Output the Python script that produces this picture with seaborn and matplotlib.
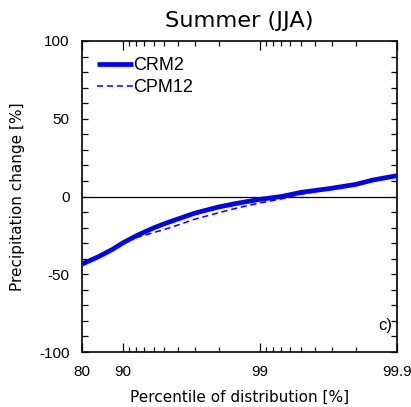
import numpy as np
import pandas as pd
import matplotlib
matplotlib.use("Agg")
import matplotlib.pyplot as plt
import seaborn as sns
from matplotlib.ticker import NullFormatter, MultipleLocator

percentiles = [80, 85, 88, 90, 92, 94, 95, 96, 97, 98, 98.5, 99, 99.3, 99.5, 99.7, 99.8, 99.85, 99.9]
crm2 = [-43.5, -38.5, -34.0, -29.7, -25.2, -20.2, -17.5, -14.5, -10.7, -6.7, -4.5, -1.8, 0.0, 2.7, 5.3, 7.8, 10.6, 13.4]
cpm12 = [-42.5, -38.5, -34.0, -29.8, -26.4, -23.2, -21.2, -18.4, -14.6, -10.4, -7.6, -4.1, -1.5, 1.5, 5.0, 7.6, 10.4, 13.2]
series_names = ["CRM2", "CPM12"]
xtick_values = [80, 90, 99, 99.9]
xtick_labels = ["80", "90", "99", "99.9"]
xminor_values = [91, 92, 93, 94, 95, 96, 97, 98, 99.1, 99.2, 99.3, 99.4, 99.5, 99.6, 99.7, 99.8]

sns.set_style("ticks")
plt.rcParams["font.family"] = ["Liberation Sans", "DejaVu Sans"]
plt.rcParams["axes.unicode_minus"] = False
for k in ["text.color", "axes.labelcolor", "xtick.color", "ytick.color", "axes.edgecolor"]:
    plt.rcParams[k] = "black"

df = pd.DataFrame({
    "p": percentiles * 2,
    "v": crm2 + cpm12,
    "run": [series_names[0]] * len(percentiles) + [series_names[1]] * len(percentiles),
})

fig = plt.figure(figsize=(4.11, 4.07), dpi=100)
ax = fig.add_axes([82 / 411, 1 - 352 / 407, (397 - 82) / 411, (352 - 41) / 407])

def fwd(p):
    p = np.asarray(p, dtype=float)
    return -np.log10(np.clip(100.0 - p, 1e-9, None))

def inv(t):
    t = np.asarray(t, dtype=float)
    return 100.0 - 10.0 ** (-t)

ax.set_xscale("function", functions=(fwd, inv))

ax.axhline(0, color="black", lw=0.9, zorder=1)

sns.lineplot(data=df[df.run == "CPM12"], x="p", y="v", ax=ax, color="#0000ff",
             lw=1.1, linestyle=(0, (4, 2.5)), label="CPM12", zorder=2)
sns.lineplot(data=df[df.run == "CRM2"], x="p", y="v", ax=ax, color="#0000ff",
             lw=3.4, label="CRM2", zorder=3, solid_capstyle="butt")

ax.set_xlim(80, 99.9)
ax.set_ylim(-100, 100)

ax.set_xticks(xtick_values)
ax.set_xticklabels(xtick_labels)
ax.set_xticks(xminor_values, minor=True)
ax.xaxis.set_minor_formatter(NullFormatter())
ax.yaxis.set_major_locator(MultipleLocator(50))
ax.yaxis.set_minor_locator(MultipleLocator(10))

ax.tick_params(axis="both", which="both", direction="in", top=True, right=True,
               color="black", width=0.9)
ax.tick_params(axis="x", which="major", length=6.5, labelsize=11, pad=9)
ax.tick_params(axis="x", which="minor", length=3.8)
ax.tick_params(axis="y", which="major", length=4.2, labelsize=11, pad=9)
ax.tick_params(axis="y", which="minor", length=4.2)

for s in ax.spines.values():
    s.set_color("black")
    s.set_linewidth(1.2)

ax.set_xlabel("Percentile of distribution [%]", fontsize=11, family=["DejaVu Sans"], labelpad=8)
ax.set_ylabel("Precipitation change [%]", fontsize=11, family=["DejaVu Sans"], labelpad=10)
ax.set_title("Summer (JJA)", fontsize=16.2, family=["DejaVu Sans"], pad=10)

ax.text(0.985, 0.085, "c)", transform=ax.transAxes, ha="right", va="center", fontsize=12)

handles, labels = ax.get_legend_handles_labels()
order = [labels.index("CRM2"), labels.index("CPM12")]
ax.legend([handles[i] for i in order], [labels[i] for i in order],
          loc="upper left", bbox_to_anchor=(0.035, 0.96), frameon=False,
          fontsize=13, handlelength=2.0, handletextpad=0.0, labelspacing=0.3,
          borderaxespad=0, borderpad=0.2)

fig.savefig("out.png", dpi=100)
